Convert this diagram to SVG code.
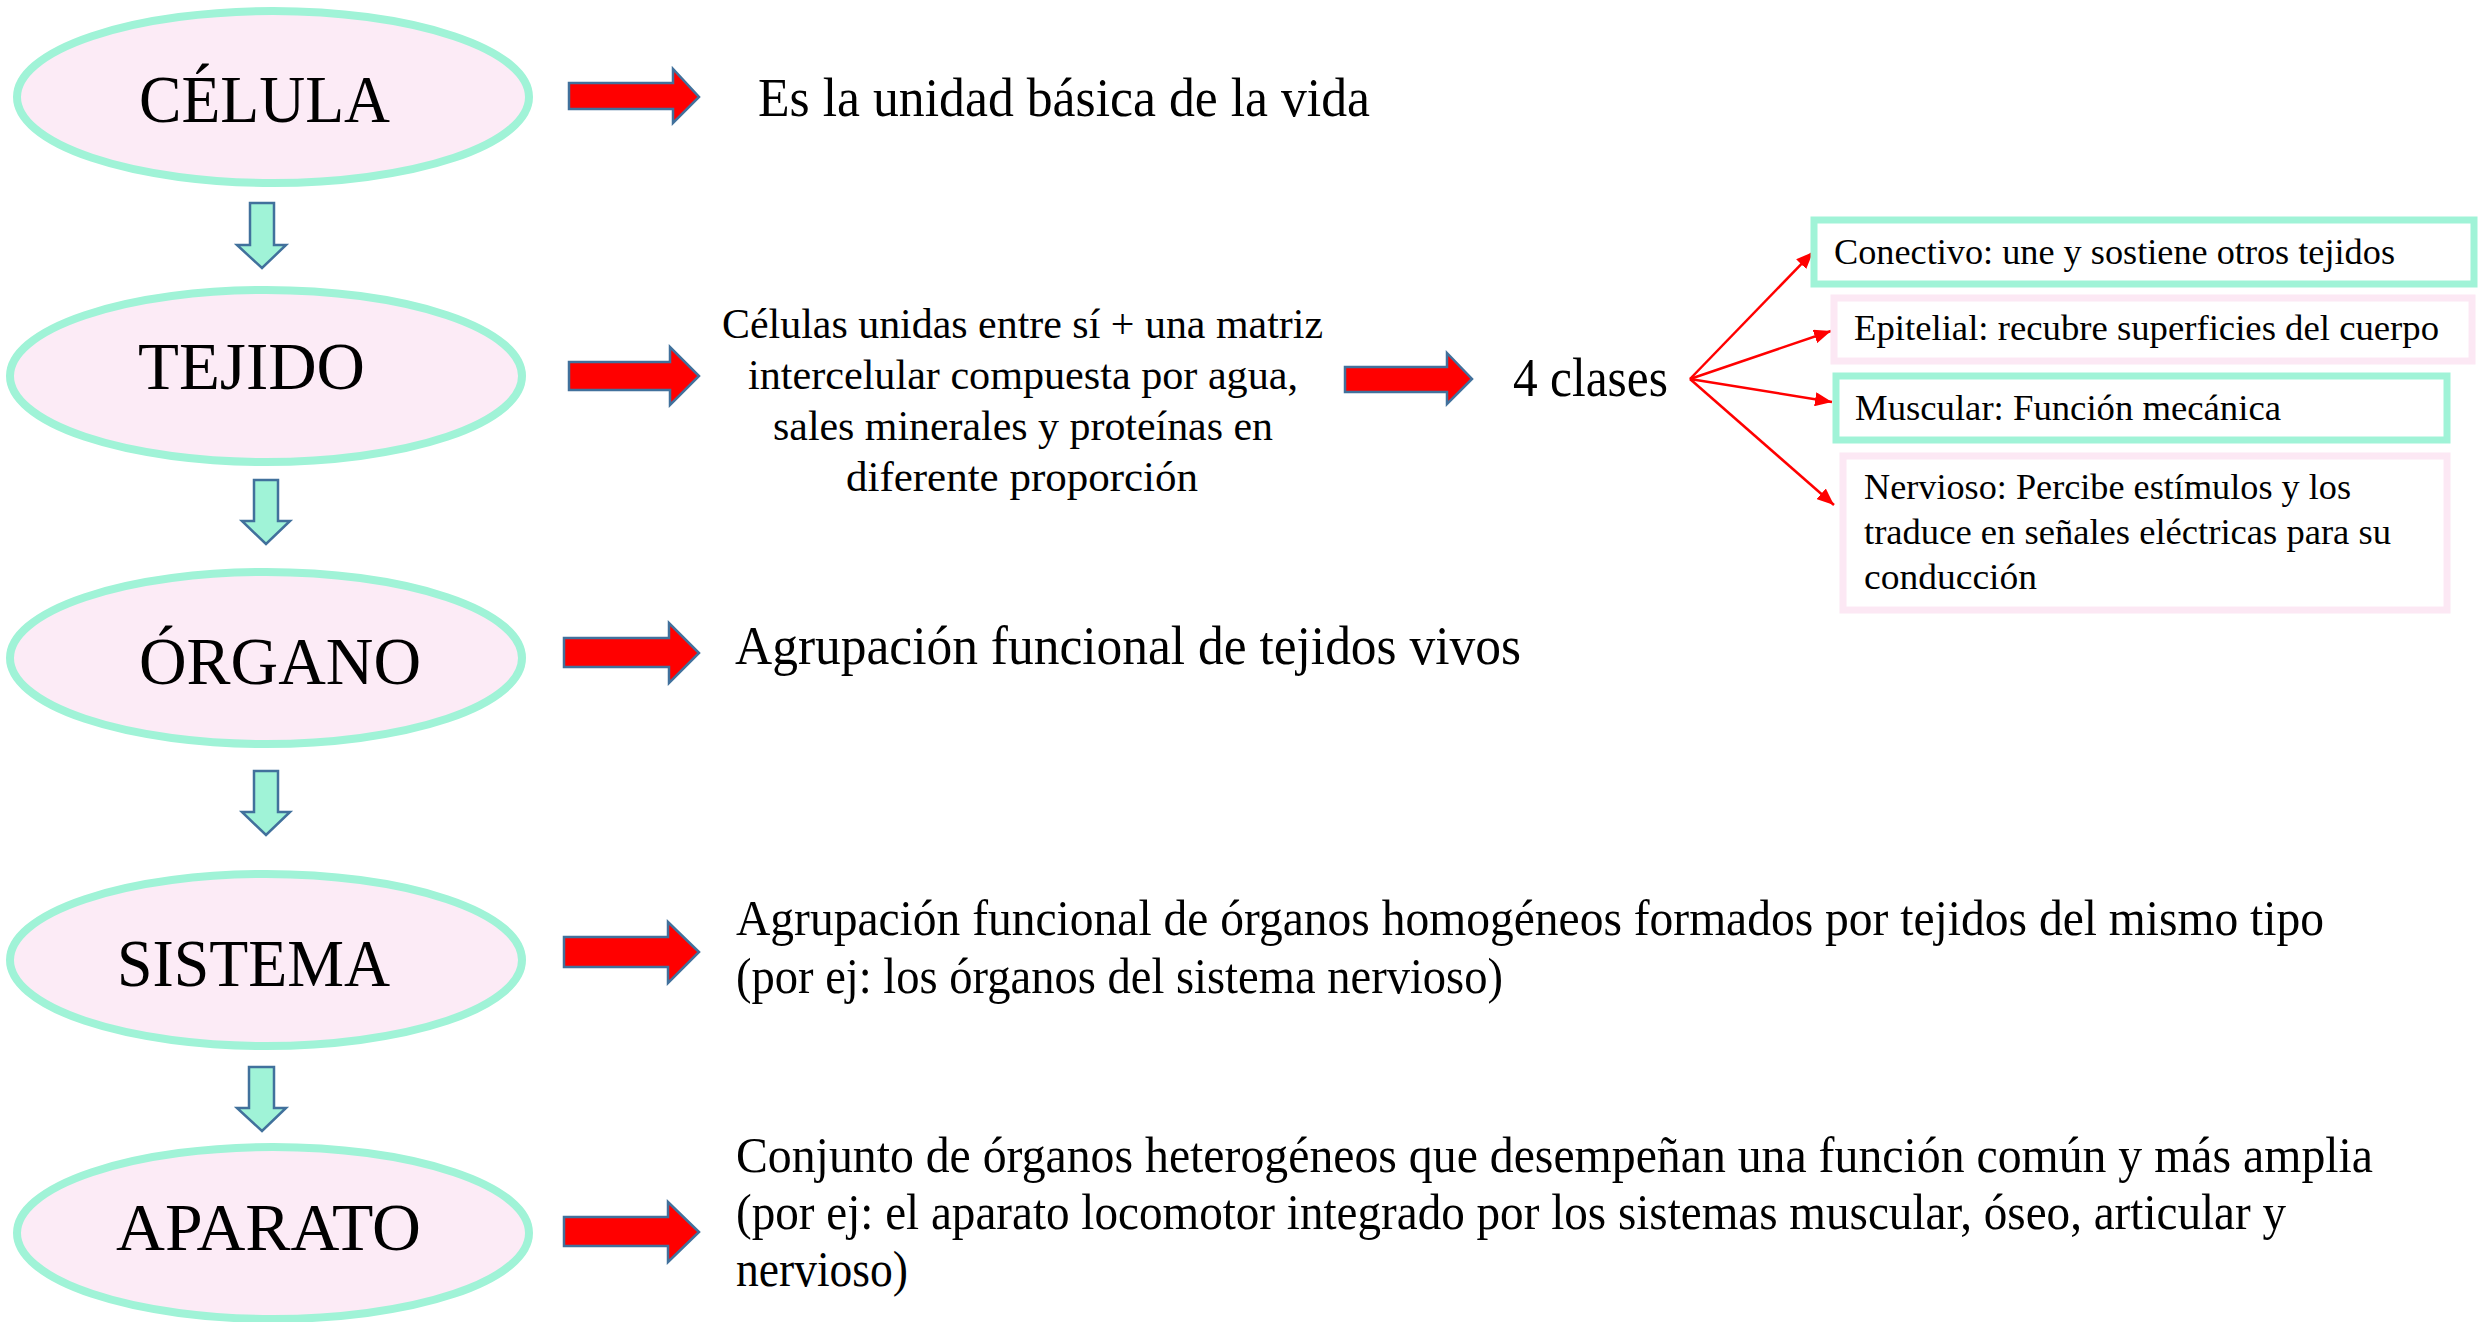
<svg xmlns="http://www.w3.org/2000/svg" width="2479" height="1322" viewBox="0 0 2479 1322">
<style>
.oval{fill:#FCEBF6;stroke:#A0F3D7;stroke-width:8}
.lbl{font-family:"Liberation Serif","Times New Roman",serif;font-size:68px;fill:#000}
.txt{font-family:"Liberation Serif","Times New Roman",serif;font-size:54px;fill:#000}
.long{font-family:"Liberation Serif","Times New Roman",serif;font-size:50px;fill:#000}
.mid{font-family:"Liberation Serif","Times New Roman",serif;font-size:42px;fill:#000}
.small{font-family:"Liberation Serif","Times New Roman",serif;font-size:36px;fill:#000}
.red{fill:#FF0000;stroke:#41719C;stroke-width:2.5;stroke-linejoin:miter}
.down{fill:#A0F3D7;stroke:#41719C;stroke-width:2.5}
.boxg{fill:#FFFFFF;stroke:#A0F3D7;stroke-width:7}
.boxp{fill:#FFFFFF;stroke:#FCE8F4;stroke-width:7}
.fan{stroke:#FF0000;stroke-width:2.5;fill:none}
</style>
<defs>
<marker id="ah" markerUnits="userSpaceOnUse" markerWidth="18" markerHeight="14" refX="17" refY="7" orient="auto">
<path d="M0,0 L17,7 L0,14 Z" fill="#FF0000"/>
</marker>
</defs>
<rect width="2479" height="1322" fill="#FFFFFF"/>

<g id="connectors">
<path class="red" d="M569,83 H673 V69 L699,97 L673,123 V109 H569 Z"/>
<path class="red" d="M569,362 H670 V347 L699,376 L670,405 V390 H569 Z"/>
<path class="red" d="M564,638 H669 V623 L699,653 L669,683 V667 H564 Z"/>
<path class="red" d="M564,937 H668 V922 L699,952 L668,983 V967 H564 Z"/>
<path class="red" d="M564,1217 H668 V1202 L699,1232 L668,1262 V1246 H564 Z"/>
<path class="red" d="M1345,367 H1447 V353 L1472,379 L1447,404 V392 H1345 Z"/>
<path class="down" d="M250,203 H274 V245 H286 L262,268 L237,245 H250 Z"/>
<path class="down" d="M254,480 H278 V521 H290 L266,544 L242,521 H254 Z"/>
<path class="down" d="M254,771 H278 V812 H290 L266,835 L242,812 H254 Z"/>
<path class="down" d="M249,1067 H274 V1108 H286 L262,1131 L237,1108 H249 Z"/>
<line class="fan" x1="1690" y1="379" x2="1813" y2="252" marker-end="url(#ah)"/>
<line class="fan" x1="1690" y1="379" x2="1831" y2="331" marker-end="url(#ah)"/>
<line class="fan" x1="1690" y1="379" x2="1832" y2="402" marker-end="url(#ah)"/>
<line class="fan" x1="1690" y1="379" x2="1834" y2="505" marker-end="url(#ah)"/>
</g>

<g id="celula">
<ellipse class="oval" cx="273" cy="97" rx="256" ry="86"/>
<text class="lbl" x="139" y="122" textLength="251" lengthAdjust="spacingAndGlyphs">CÉLULA</text>
</g>
<g id="tejido">
<ellipse class="oval" cx="266" cy="376" rx="256" ry="86"/>
<text class="lbl" x="138" y="389" textLength="227" lengthAdjust="spacingAndGlyphs">TEJIDO</text>
</g>
<g id="organo">
<ellipse class="oval" cx="266" cy="658" rx="256" ry="86"/>
<text class="lbl" x="139" y="684" textLength="282" lengthAdjust="spacingAndGlyphs">ÓRGANO</text>
</g>
<g id="sistema">
<ellipse class="oval" cx="266" cy="960" rx="256" ry="86"/>
<text class="lbl" x="117" y="986" textLength="273" lengthAdjust="spacingAndGlyphs">SISTEMA</text>
</g>
<g id="aparato">
<ellipse class="oval" cx="273" cy="1233" rx="256" ry="86"/>
<text class="lbl" x="116" y="1250" textLength="305" lengthAdjust="spacingAndGlyphs">APARATO</text>
</g>

<g id="def-celula">
<text class="txt" x="758" y="116" textLength="612" lengthAdjust="spacingAndGlyphs">Es la unidad básica de la vida</text>
</g>
<g id="def-tejido">
<text class="mid" x="722" y="338" textLength="601" lengthAdjust="spacingAndGlyphs">Células unidas entre sí + una matriz</text>
<text class="mid" x="748" y="389" textLength="550" lengthAdjust="spacingAndGlyphs">intercelular compuesta por agua,</text>
<text class="mid" x="773" y="440" textLength="500" lengthAdjust="spacingAndGlyphs">sales minerales y proteínas en</text>
<text class="mid" x="846" y="491" textLength="352" lengthAdjust="spacingAndGlyphs">diferente proporción</text>
</g>
<g id="clases">
<text class="txt" x="1513" y="396" textLength="155" lengthAdjust="spacingAndGlyphs">4 clases</text>
</g>
<g id="conectivo">
<rect class="boxg" x="1814" y="220" width="660" height="64"/>
<text class="small" x="1834" y="264" textLength="561" lengthAdjust="spacingAndGlyphs">Conectivo: une y sostiene otros tejidos</text>
</g>
<g id="epitelial">
<rect class="boxp" x="1834" y="298" width="638" height="63"/>
<text class="small" x="1854" y="340" textLength="585" lengthAdjust="spacingAndGlyphs">Epitelial: recubre superficies del cuerpo</text>
</g>
<g id="muscular">
<rect class="boxg" x="1836" y="376" width="611" height="64"/>
<text class="small" x="1855" y="420" textLength="426" lengthAdjust="spacingAndGlyphs">Muscular: Función mecánica</text>
</g>
<g id="nervioso">
<rect class="boxp" x="1843" y="456" width="604" height="154"/>
<text class="small" x="1864" y="499" textLength="487" lengthAdjust="spacingAndGlyphs">Nervioso: Percibe estímulos y los</text>
<text class="small" x="1864" y="544" textLength="527" lengthAdjust="spacingAndGlyphs">traduce en señales eléctricas para su</text>
<text class="small" x="1864" y="589" textLength="173" lengthAdjust="spacingAndGlyphs">conducción</text>
</g>
<g id="def-organo">
<text class="txt" x="735" y="664" textLength="786" lengthAdjust="spacingAndGlyphs">Agrupación funcional de tejidos vivos</text>
</g>
<g id="def-sistema">
<text class="long" x="736" y="935" textLength="1588" lengthAdjust="spacingAndGlyphs">Agrupación funcional de órganos homogéneos formados por tejidos del mismo tipo</text>
<text class="long" x="736" y="993" textLength="767" lengthAdjust="spacingAndGlyphs">(por ej: los órganos del sistema nervioso)</text>
</g>
<g id="def-aparato">
<text class="long" x="736" y="1172" textLength="1637" lengthAdjust="spacingAndGlyphs">Conjunto de órganos heterogéneos que desempeñan una función común y más amplia</text>
<text class="long" x="736" y="1229" textLength="1550" lengthAdjust="spacingAndGlyphs">(por ej: el aparato locomotor integrado por los sistemas muscular, óseo, articular y</text>
<text class="long" x="736" y="1286" textLength="172" lengthAdjust="spacingAndGlyphs">nervioso)</text>
</g>
</svg>
